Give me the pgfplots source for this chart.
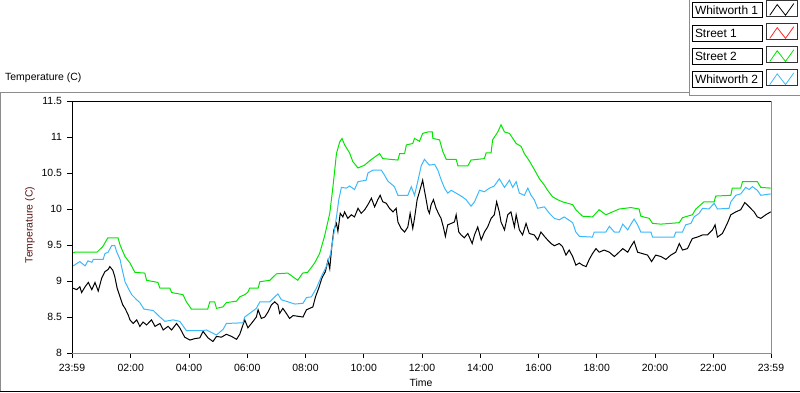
\documentclass[border=0pt]{standalone}
\usepackage{pgfplots}
\pgfplotsset{compat=1.18}
\usepackage{fontspec}
\setmainfont{Liberation Sans}
\definecolor{sgreen}{RGB}{0,230,0}
\definecolor{wblue}{RGB}{60,185,250}
\definecolor{lblred}{RGB}{90,20,20}
\definecolor{panelgray}{RGB}{140,140,140}
\setlength\fboxsep{0pt}
\setlength\fboxrule{0.8bp}
\newcommand\lbox[1]{\fbox{\parbox[c][15bp][c]{69bp}{\hspace{2bp}#1}}}
\begin{document}
\begin{tikzpicture}[x=1bp,y=1bp]
\useasboundingbox (0,0) rectangle (800,392);
% panel lines
\draw[panelgray, line width=1bp] (0,299.3) -- (689.5,299.3);
\draw[panelgray, line width=1bp] (689.5,392) -- (689.5,297) -- (800,297);
\draw[panelgray, line width=1bp] (0.5,0) -- (0.5,299.3);
\draw[black, line width=1bp] (0,1) -- (800,1);
\begin{axis}[
  at={(72bp,39bp)}, anchor=south west,
  scale only axis, width=699bp, height=252bp,
  xmin=0, xmax=24, ymin=8, ymax=11.5,
  axis line style={draw=none},
  tick pos=left, tick align=outside,
  major tick length=5bp, minor tick length=3bp,
  tick style={black, line width=0.8bp},
  xtick={0,2.0167,4.0167,6.0167,8.0167,10.0167,12.0167,14.0167,16.0167,18.0167,20.0167,22.0167,24},
  xticklabels={23:59,02:00,04:00,06:00,08:00,10:00,12:00,14:00,16:00,18:00,20:00,22:00,23:59},
  minor x tick num=9,
  ytick={8,8.5,9,9.5,10,10.5,11,11.5},
  yticklabels={8,8.5,9,9.5,10,10.5,11,11.5},
  /pgf/number format/assume math mode=true,
  tick label style={font=\fontsize{10.5}{12}\selectfont},
  xticklabel style={yshift=-3bp},
  yticklabel style={xshift=-1.5bp},
  xlabel={Time},
  xlabel style={at={(axis description cs:0.4993,-0.119)}, anchor=center, font=\fontsize{10.5}{12}\selectfont},
  ylabel={Temperature (C)},
  ylabel style={at={(axis description cs:-0.0601,0.508)}, anchor=center, rotate=0, font=\fontsize{10.5}{12}\selectfont, text=lblred},
  title={Temperature (C)},
  title style={at={(axis description cs:-0.0959,1.0567)}, anchor=base west, font=\fontsize{10.5}{12}\selectfont, inner sep=0pt},
  legend plot pos=right,
  legend cell align=left,
  legend style={at={(axis description cs:0.887,1.401)}, anchor=north west, draw=none, fill=none,
    row sep=6.3bp, column sep=3.3bp, inner sep=0pt,
    nodes={inner sep=0pt, font=\fontsize{12}{14}\selectfont}},
  legend image code/.code={
    \draw[black!80, line width=0.8bp, solid] (0bp,-8.5bp) rectangle (31bp,7.5bp);
    \draw[line width=0.8bp] (3.3bp,-7.2bp) -- (10.7bp,3.5bp) -- (19bp,-7.2bp) -- (27.3bp,4.5bp);
  },
]
\addplot[black, line width=1bp] table {
0.04 8.90
0.16 8.88
0.27 8.92
0.33 8.84
0.45 8.92
0.56 8.98
0.68 8.88
0.79 8.98
0.90 8.86
1.02 9.04
1.13 9.13
1.24 9.16
1.30 9.20
1.40 9.15
1.47 9.06
1.55 8.90
1.65 8.78
1.74 8.67
1.82 8.62
1.93 8.53
1.99 8.46
2.10 8.41
2.22 8.46
2.33 8.37
2.44 8.43
2.56 8.39
2.73 8.46
2.85 8.37
3.02 8.41
3.13 8.32
3.30 8.37
3.42 8.32
3.59 8.41
3.70 8.35
3.87 8.22
4.05 8.18
4.22 8.20
4.39 8.21
4.50 8.30
4.67 8.21
4.84 8.16
4.96 8.23
5.13 8.22
5.30 8.26
5.48 8.23
5.65 8.19
5.76 8.26
5.93 8.46
6.04 8.35
6.16 8.41
6.33 8.50
6.39 8.60
6.50 8.48
6.62 8.50
6.73 8.57
6.85 8.67
6.96 8.71
7.07 8.67
7.13 8.55
7.24 8.62
7.36 8.55
7.47 8.48
7.59 8.52
7.76 8.51
7.93 8.50
8.05 8.60
8.16 8.62
8.27 8.64
8.36 8.78
8.47 8.90
8.58 9.04
8.70 9.13
8.79 9.29
8.85 9.17
8.92 9.48
8.99 9.71
9.08 9.80
9.13 9.69
9.21 9.94
9.30 9.89
9.36 9.96
9.47 9.87
9.59 9.92
9.70 9.89
9.82 10.01
9.93 9.94
10.05 9.99
10.16 10.06
10.28 10.15
10.39 10.03
10.50 10.13
10.58 10.19
10.67 10.10
10.79 10.08
10.90 10.01
11.02 9.96
11.13 10.01
11.19 9.82
11.30 9.73
11.42 9.68
11.53 9.75
11.61 9.94
11.70 9.73
11.76 9.87
11.85 10.13
11.93 10.24
12.04 10.40
12.10 10.26
12.16 10.13
12.22 9.99
12.27 9.94
12.33 10.06
12.41 10.13
12.50 10.01
12.58 9.94
12.67 9.87
12.75 9.75
12.82 9.62
12.90 9.78
13.02 9.80
13.13 9.82
13.19 9.92
13.28 9.68
13.36 9.64
13.47 9.60
13.59 9.66
13.74 9.52
13.82 9.64
13.93 9.75
14.05 9.57
14.16 9.68
14.27 9.75
14.39 9.87
14.50 9.92
14.58 10.10
14.67 9.96
14.73 9.82
14.85 9.71
14.96 9.92
15.07 9.96
15.19 9.75
15.25 9.92
15.36 9.71
15.47 9.64
15.59 9.80
15.70 9.66
15.87 9.64
15.99 9.57
16.10 9.68
16.22 9.62
16.33 9.57
16.45 9.52
16.56 9.49
16.73 9.52
16.84 9.48
16.96 9.36
17.07 9.43
17.19 9.34
17.30 9.22
17.42 9.25
17.53 9.22
17.65 9.20
17.76 9.30
17.87 9.38
17.99 9.45
18.10 9.40
18.27 9.43
18.45 9.40
18.62 9.34
18.73 9.38
18.91 9.45
19.08 9.40
19.19 9.48
19.30 9.55
19.42 9.40
19.59 9.38
19.76 9.36
19.90 9.27
20.04 9.36
20.22 9.34
20.39 9.30
20.56 9.36
20.73 9.40
20.85 9.52
20.96 9.43
21.13 9.45
21.30 9.59
21.47 9.61
21.65 9.64
21.82 9.64
21.99 9.71
22.08 9.78
22.16 9.61
22.33 9.66
22.50 9.80
22.62 9.92
22.79 9.96
22.96 9.99
23.10 10.09
23.25 10.03
23.42 9.96
23.53 9.89
23.65 9.87
23.82 9.92
23.99 9.96
};
\addlegendentry{\lbox{Whitworth 1}}
\addlegendimage{red!85, line width=1bp}
\addlegendentry{\lbox{Street 1}}
\addplot[sgreen, line width=1bp] table {
0.04 9.39
0.10 9.40
0.86 9.40
1.06 9.48
1.23 9.60
1.58 9.60
1.65 9.50
1.82 9.34
1.99 9.25
2.16 9.12
2.50 9.11
2.56 9.01
2.95 8.98
3.02 8.90
3.36 8.90
3.42 8.84
3.81 8.81
3.93 8.71
4.10 8.61
4.66 8.61
4.73 8.71
4.90 8.71
4.96 8.62
5.18 8.64
5.30 8.70
5.65 8.72
5.76 8.78
5.93 8.81
6.03 8.84
6.10 8.90
6.39 8.90
6.45 8.99
6.79 9.01
7.02 9.10
7.41 9.11
7.75 9.01
7.92 9.11
8.09 9.12
8.33 9.25
8.50 9.38
8.67 9.62
8.85 9.94
8.96 10.31
9.08 10.77
9.19 10.93
9.27 10.98
9.36 10.89
9.53 10.78
9.64 10.66
9.82 10.57
10.05 10.61
10.22 10.67
10.56 10.77
10.67 10.70
11.19 10.68
11.25 10.77
11.42 10.77
11.48 10.89
11.70 10.91
11.76 10.98
11.93 10.94
12.04 11.05
12.22 11.07
12.37 11.07
12.39 10.98
12.62 10.96
12.73 10.80
12.85 10.69
13.19 10.69
13.25 10.60
13.59 10.60
13.70 10.68
13.93 10.69
14.16 10.70
14.22 10.78
14.39 10.78
14.44 10.96
14.62 11.07
14.73 11.17
14.85 11.07
15.02 11.05
15.25 10.91
15.42 10.87
15.53 10.77
15.70 10.67
15.87 10.55
16.05 10.42
16.22 10.33
16.33 10.26
16.50 10.17
16.67 10.13
16.84 10.10
17.19 10.06
17.30 9.99
17.53 9.90
17.87 9.89
18.10 9.99
18.33 9.92
18.56 9.96
18.79 10.00
19.19 10.02
19.47 10.00
19.53 9.90
19.82 9.87
19.93 9.80
20.22 9.79
20.85 9.81
20.96 9.88
21.30 9.92
21.42 10.00
21.70 10.10
22.05 10.10
22.10 10.18
22.62 10.19
22.67 10.29
22.96 10.29
23.02 10.38
23.53 10.38
23.65 10.30
23.99 10.29
};
\addlegendentry{\lbox{Street 2}}
\addplot[wblue, line width=1bp] table {
0.04 9.21
0.27 9.27
0.45 9.21
0.55 9.28
0.68 9.26
0.73 9.30
1.07 9.30
1.13 9.38
1.24 9.40
1.36 9.49
1.47 9.49
1.53 9.41
1.65 9.30
1.70 9.20
1.82 8.99
1.93 8.90
2.05 8.81
2.22 8.74
2.33 8.70
2.47 8.61
2.79 8.59
3.02 8.50
3.19 8.44
3.47 8.46
3.70 8.44
3.93 8.31
4.45 8.31
4.62 8.32
4.96 8.25
5.19 8.33
5.30 8.41
5.87 8.42
5.93 8.50
6.10 8.55
6.33 8.62
6.45 8.71
6.79 8.71
6.96 8.78
7.07 8.82
7.19 8.74
7.42 8.71
7.65 8.68
7.93 8.69
8.05 8.77
8.22 8.78
8.39 8.90
8.56 9.06
8.73 9.20
8.88 9.38
8.99 9.66
9.08 9.89
9.16 10.13
9.25 10.30
9.42 10.29
9.53 10.32
9.70 10.27
9.82 10.38
10.10 10.40
10.16 10.50
10.33 10.54
10.62 10.54
10.73 10.47
10.84 10.39
11.07 10.31
11.19 10.19
11.53 10.19
11.65 10.31
11.76 10.19
11.87 10.38
11.99 10.60
12.10 10.69
12.27 10.61
12.45 10.62
12.56 10.54
12.68 10.40
12.79 10.29
12.90 10.22
13.02 10.26
13.19 10.22
13.36 10.18
13.53 10.13
13.70 10.04
13.82 10.10
13.99 10.26
14.16 10.24
14.33 10.29
14.50 10.32
14.67 10.42
14.85 10.30
15.02 10.40
15.13 10.30
15.25 10.38
15.36 10.22
15.53 10.19
15.65 10.29
15.76 10.19
15.87 10.13
15.99 10.01
16.22 10.03
16.39 9.94
16.56 9.87
16.73 9.85
16.90 9.89
17.19 9.81
17.30 9.68
17.42 9.62
17.87 9.61
17.93 9.68
18.33 9.68
18.45 9.76
18.62 9.68
18.79 9.68
18.91 9.79
19.08 9.71
19.19 9.79
19.30 9.86
19.42 9.78
19.53 9.68
19.88 9.68
19.93 9.61
20.67 9.61
20.73 9.68
20.96 9.68
21.07 9.78
21.25 9.80
21.36 9.89
21.53 9.94
21.65 10.01
21.87 10.00
22.05 10.08
22.16 10.00
22.56 10.01
22.62 10.10
22.79 10.19
22.96 10.21
23.13 10.30
23.25 10.27
23.36 10.31
23.53 10.26
23.65 10.19
23.99 10.21
};
\addlegendentry{\lbox{Whitworth 2}}
\end{axis}
% plot frame
\draw[black, line width=1bp] (72,39) -- (72,291) -- (771,291);
\draw[panelgray, line width=1bp] (771,291) -- (771,39) -- (72,39);
\end{tikzpicture}
\end{document}
